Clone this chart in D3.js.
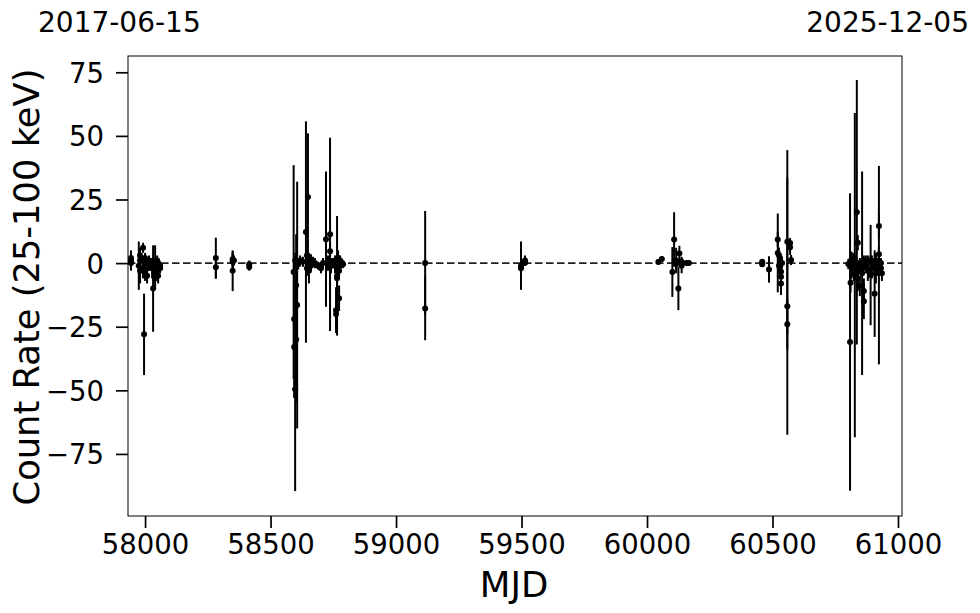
<!DOCTYPE html>
<html>
<head>
<meta charset="utf-8">
<script src="https://cdn.jsdelivr.net/npm/d3@7"></script>
<style>
  html, body { margin: 0; padding: 0; background: #fff; }
  svg { display: block; }
  text { font-family: "DejaVu Sans", sans-serif; fill: #000; }
</style>
</head>
<body>
<svg id="chart" width="980" height="613"></svg>
<script>
// ---- data: observation time (MJD), count rate, 1-sigma error ----
const mjd = [
  // 2017
  57944, 57944, 57944, 57975, 57980, 57980, 57980, 57992, 57992, 57996,
  58000, 58000, 58000, 58000, 58008, 58008, 58008, 58016, 58016, 58028,
  58032, 58040, 58040, 58040, 58048, 58048, 58048, 58052, 58052, 58060, 58060,
  // 2018
  58282, 58282, 58349, 58349, 58349, 58354, 58415, 58415,
  // 2019
  58592, 58594, 58594, 58598, 58598, 58602, 58602, 58606, 58610, 58618,
  58629, 58641, 58645, 58645, 58649, 58653, 58653, 58661, 58661, 58669,
  58677, 58689, 58701, 58709, 58721, 58729, 58737, 58737, 58741, 58749,
  58757, 58757, 58761, 58761, 58765, 58765, 58769, 58769, 58773, 58773,
  58773, 58777, 58777, 58781, 58785, 58789,
  // 2020-2021
  59116, 59116, 59498, 59498, 59506, 59514, 59514,
  // 2023
  60045, 60059, 60101, 60108, 60116, 60116, 60125, 60129, 60138, 60138,
  60158, 60167,
  // 2024
  60459, 60459, 60459, 60486, 60521, 60521, 60526, 60526, 60530, 60530,
  60534, 60534, 60534, 60538, 60559, 60559, 60559, 60570, 60570, 60574,
  // 2025
  60802, 60809, 60811, 60815, 60815, 60820, 60820, 60824, 60824, 60828,
  60828, 60836, 60840, 60840, 60840, 60848, 60848, 60857, 60857, 60864,
  60864, 60864, 60872, 60872, 60880, 60880, 60891, 60891, 60896, 60896,
  60907, 60907, 60912, 60912, 60920, 60924, 60924, 60924, 60932, 60932, 60936
];
const rate = [
  1, 0, 2, -1, -3, 1, 3, 6, -2, -28,
  0, -1, -4, 2, -2, 0, -5, -1, 1, -2,
  -10, 0, -3, -6, 1, -1, -2, -5, 0, -2, -1,
  2, -1.6, 1.5, 0.5, -3, 1, -0.5, -1.5,
  -3.5, -22, -33, -49.6, 1, -30, -8.7, -16.5, -0.5, 1,
  0.5, 12.2, -2, 3, 26, 1, -3, -1, 0.5, 0.5,
  0, -1, -2, 0, 9.4, 0, 11.3, 4.7, -1, 0,
  -1, 1, -18.5, -20, -5, -6, -2, 2, -13.8, 0,
  -3, 1, -1, 0, 0, -0.5,
  0, -17.8, -1, -2, 0, 0.1, 1,
  0.4, 1.6, -3.5, 9.3, -0.4, 1, -10, 3.8, 0.5, -1,
  0, 0,
  0, 0.5, -0.5, -2.5, 9.3, 4, 3.1, -1, 2, -1.4,
  -3.4, -5.4, -8, 0, 8.4, -17, -24, 6.2, 7.9, 1.2,
  -0.4, -31, -7.7, 1.5, -1, -2, 0, -4, 2, -4.7,
  -1, 20, 8, -3, -6, 0, -9, -4, -2, -15,
  0, -11, -1, 1, -3, 0, -4.7, 1, -2, 0,
  -12, -1, 1, -4, -2, -0.8, 14.6, 3.5, -2, 0, -4
];
const err = [
  4, 1.5, 1, 9.5, 5, 2, 3, 2, 4, 16,
  3, 2, 3, 2, 3, 1.5, 3, 2, 2, 4,
  17, 7, 3, 4, 2, 3, 2, 3, 2, 2, 1.5,
  8, 4.5, 3, 3, 8, 2, 1.5, 1.5,
  42, 22, 20, 40, 3, 25, 20, 48.5, 2, 2,
  2, 43.5, 3, 4, 25, 3, 5, 2, 3, 2,
  2, 1.5, 2, 2, 26.6, 3, 38, 3, 3, 2,
  3, 2, 9, 5, 23.5, 4, 3, 3, 5, 2,
  2, 2, 2, 1.5, 1.5, 1.5,
  20.5, 12.5, 9.5, 2, 1.5, 1, 2,
  1, 1, 9.8, 10.7, 2, 5, 8.5, 3, 2, 3,
  1, 1,
  1.5, 1, 1, 5.2, 3, 15.5, 3, 2, 2, 3,
  3, 3, 4.5, 2, 36, 50.5, 10, 3, 2, 2,
  2, 58.5, 4, 3, 5, 3, 2, 3, 2, 63.7,
  3, 52, 3, 4, 5, 2, 4, 40, 3, 7,
  3, 5, 3, 2, 4, 3, 19.7, 2, 4, 3,
  17, 3, 3, 4, 3, 39, 5, 3, 3, 2, 3
];
const xTicks = [58000, 58500, 59000, 59500, 60000, 60500, 61000];
const yTicks = [-75, -50, -25, 0, 25, 50, 75];
const dateLabels = ["2017-06-15", "2025-12-05"];
const xLabel = "MJD";
const yLabel = "Count Rate (25-100 keV)";

const points = mjd.map((m, i) => ({ m, r: rate[i], e: err[i] }));

// ---- layout ----
const svg = d3.select("#chart");
const L = 128, R = 902, T = 56, B = 516;

const x = d3.scaleLinear().domain([57932, 61016]).range([L, R]);
const y = d3.scaleLinear().domain([-99.4, 81.4]).range([B, T]);

const g = svg.append("g");

// zero reference line
g.append("line")
  .attr("x1", L).attr("x2", R)
  .attr("y1", y(0)).attr("y2", y(0))
  .attr("stroke", "#222").attr("stroke-width", 1.7)
  .attr("stroke-dasharray", "7.5,3.5");

// error bars
g.append("g").selectAll("line").data(points).join("line")
  .attr("x1", d => x(d.m)).attr("x2", d => x(d.m))
  .attr("y1", d => y(d.r - d.e)).attr("y2", d => y(d.r + d.e))
  .attr("stroke", "#000").attr("stroke-width", 2);

// markers
g.append("g").selectAll("circle").data(points).join("circle")
  .attr("cx", d => x(d.m)).attr("cy", d => y(d.r))
  .attr("r", 3).attr("fill", "#000");

// frame
svg.append("rect")
  .attr("x", L).attr("y", T).attr("width", R - L).attr("height", B - T)
  .attr("fill", "none").attr("stroke", "#000").attr("stroke-width", 1);

// axes
const fmt = d => d < 0 ? "\u2212" + Math.abs(d) : String(d);
const xAxis = svg.append("g").attr("transform", `translate(0,${B})`)
  .call(d3.axisBottom(x).tickValues(xTicks).tickFormat(d => String(d))
    .tickSize(12).tickPadding(6));
const yAxis = svg.append("g").attr("transform", `translate(${L},0)`)
  .call(d3.axisLeft(y).tickValues(yTicks).tickFormat(fmt)
    .tickSize(12).tickPadding(12));
[xAxis, yAxis].forEach(a => {
  a.select(".domain").remove();
  a.selectAll(".tick line").attr("stroke", "#000").attr("stroke-width", 1.7);
  a.selectAll(".tick text").style("font-family", "DejaVu Sans")
    .style("font-size", "27.5px").attr("fill", "#000");
});
yAxis.selectAll(".tick text").attr("dy", "0.36em");

// axis labels
svg.append("text").attr("x", (L + R) / 2 - 1).attr("y", 597)
  .attr("text-anchor", "middle").style("font-size", "35.5px").text(xLabel);
svg.append("text")
  .attr("transform", `translate(39,${(T + B) / 2 + 1}) rotate(-90)`)
  .attr("text-anchor", "middle").style("font-size", "35.3px").text(yLabel);

// date labels
svg.append("text").attr("x", 38).attr("y", 32)
  .attr("text-anchor", "start").style("font-size", "28px").text(dateLabels[0]);
svg.append("text").attr("x", 969).attr("y", 32)
  .attr("text-anchor", "end").style("font-size", "28px").text(dateLabels[1]);
</script>
</body>
</html>
